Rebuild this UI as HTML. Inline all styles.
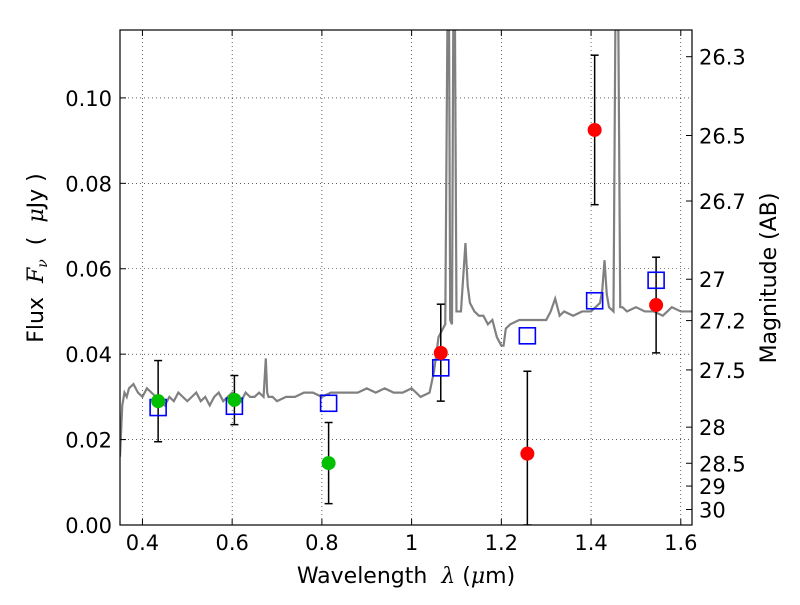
<!DOCTYPE html>
<html><head><meta charset="utf-8"><style>
body{margin:0;background:#fff}
svg text{font-family:"DejaVu Sans","Liberation Sans",sans-serif;fill:#000}
</style></head><body>
<svg id="c" width="800" height="600" viewBox="0 0 800 600"></svg>
<script>
const specWave=[0.35,0.355,0.36,0.365,0.37,0.38,0.39,0.40,0.41,0.42,0.43,0.44,0.45,0.46,0.47,0.48,0.49,0.50,0.51,0.52,0.53,0.54,0.55,0.56,0.57,0.58,0.59,0.60,0.61,0.62,0.63,0.64,0.65,0.66,0.67,0.675,0.678,0.681,0.69,0.70,0.72,0.74,0.76,0.78,0.80,0.82,0.84,0.86,0.88,0.90,0.92,0.94,0.96,0.98,1.00,1.02,1.04,1.05,1.06,1.07,1.075,1.08,1.083,1.086,1.09,1.093,1.096,1.10,1.11,1.115,1.12,1.125,1.13,1.14,1.15,1.16,1.17,1.18,1.19,1.20,1.205,1.21,1.22,1.24,1.26,1.28,1.30,1.31,1.32,1.33,1.34,1.36,1.38,1.40,1.42,1.425,1.43,1.435,1.44,1.45,1.455,1.46,1.465,1.47,1.48,1.50,1.52,1.54,1.56,1.58,1.60,1.625];
const specFlux=[0.016,0.028,0.031,0.030,0.032,0.033,0.031,0.030,0.032,0.031,0.030,0.029,0.028,0.030,0.029,0.031,0.030,0.029,0.030,0.031,0.029,0.030,0.028,0.030,0.031,0.029,0.030,0.031,0.030,0.029,0.031,0.030,0.030,0.031,0.030,0.039,0.031,0.030,0.030,0.029,0.030,0.030,0.031,0.031,0.030,0.031,0.031,0.031,0.031,0.032,0.031,0.032,0.031,0.031,0.032,0.030,0.031,0.036,0.044,0.046,0.047,0.12,0.13,0.048,0.047,0.12,0.13,0.050,0.050,0.058,0.066,0.056,0.052,0.050,0.049,0.049,0.047,0.048,0.044,0.042,0.042,0.046,0.047,0.048,0.048,0.048,0.048,0.050,0.053,0.049,0.050,0.049,0.050,0.050,0.052,0.055,0.062,0.054,0.051,0.050,0.13,0.13,0.051,0.051,0.050,0.051,0.050,0.050,0.049,0.051,0.050,0.050];
const photWave=[0.435,0.605,0.815,1.065,1.258,1.408,1.545];
const modelFlux=[0.0275,0.0278,0.0285,0.0368,0.0443,0.0525,0.0573];
const obsFlux=[0.029,0.0293,0.0145,0.0403,0.0167,0.0925,0.0515];
const obsLo=[0.0195,0.0235,0.005,0.029,0.0,0.075,0.0403];
const obsHi=[0.0385,0.035,0.024,0.0517,0.036,0.11,0.0627];
const obsColor=['#00c000','#00c000','#00c000','#ff0000','#ff0000','#ff0000','#ff0000'];
const xTicks=[0.4,0.6,0.8,1.0,1.2,1.4,1.6];
const xTickLabels=['0.4','0.6','0.8','1','1.2','1.4','1.6'];
const yTicks=[0,0.02,0.04,0.06,0.08,0.10];
const yTickLabels=['0.00','0.02','0.04','0.06','0.08','0.10'];
const magTicks=[26.3,26.5,26.7,27,27.2,27.5,28,28.5,29,30];

const svg=document.getElementById('c');
const NS='http://www.w3.org/2000/svg';
const L=120,R=692,T=30,B=525,X0=0.35,X1=1.625,Y0=0,Y1=0.1159;
const sx=v=>L+(v-X0)/(X1-X0)*(R-L);
const sy=v=>B-(v-Y0)/(Y1-Y0)*(B-T);
function mk(tag,at,parent){const e=document.createElementNS(NS,tag);for(const k in at)e.setAttribute(k,at[k]);(parent||svg).appendChild(e);return e;}
const defs=mk('defs',{});const cp=mk('clipPath',{id:'clip'},defs);mk('rect',{x:L,y:T,width:R-L,height:B-T},cp);

const grid=mk('g',{});


xTicks.forEach(t=>mk('line',{x1:sx(t),x2:sx(t),y1:T,y2:B,stroke:'#000','stroke-width':0.6,'stroke-dasharray':'1,3'},grid));
yTicks.forEach(t=>mk('line',{x1:L,x2:R,y1:sy(t),y2:sy(t),stroke:'#000','stroke-width':0.6,'stroke-dasharray':'1,3'},grid));

const plot=mk('g',{'clip-path':'url(#clip)'});
const sp=mk('polyline',{points:specWave.map((w,i)=>sx(w)+','+sy(specFlux[i])).join(' '),fill:'none',stroke:'#808080','stroke-width':2.2},plot);



photWave.forEach((w,i)=>{
 const eb=mk('g',{},plot);
 
 
 mk('line',{x1:sx(w),x2:sx(w),y1:sy(obsLo[i]),y2:sy(obsHi[i]),stroke:'#000','stroke-width':1.5},eb);
 mk('line',{x1:sx(w)-4,x2:sx(w)+4,y1:sy(obsLo[i]),y2:sy(obsLo[i]),stroke:'#000','stroke-width':1.5},eb);
 mk('line',{x1:sx(w)-4,x2:sx(w)+4,y1:sy(obsHi[i]),y2:sy(obsHi[i]),stroke:'#000','stroke-width':1.5},eb);
});
photWave.forEach((w,i)=>{
 const s=mk('rect',{x:sx(w)-8,y:sy(modelFlux[i])-8,width:16,height:16,fill:'none',stroke:'#0000ff','stroke-width':1.6},plot);
 
 
});
photWave.forEach((w,i)=>{
 const c=mk('circle',{cx:sx(w),cy:sy(obsFlux[i]),r:7,fill:obsColor[i]},plot);
 
 
});

const frame=mk('rect',{x:L,y:T,width:R-L,height:B-T,fill:'none',stroke:'#000','stroke-width':1.2});



xTicks.forEach((t,i)=>{
 mk('line',{x1:sx(t),x2:sx(t),y1:B,y2:B-6,stroke:'#000'});mk('line',{x1:sx(t),x2:sx(t),y1:T,y2:T+6,stroke:'#000'});
 const tx=mk('text',{x:sx(t),y:B+25,'font-size':21,'text-anchor':'middle'});tx.textContent=xTickLabels[i];
 
 
});
yTicks.forEach((t,i)=>{
 mk('line',{x1:L,x2:L+6,y1:sy(t),y2:sy(t),stroke:'#000'});
 const tx=mk('text',{x:L-8,y:sy(t)+8,'font-size':21,'text-anchor':'end'});tx.textContent=yTickLabels[i];
 
 
});
magTicks.forEach(m=>{
 const f=Math.pow(10,(23.9-m)/2.5);const y=sy(f);
 mk('line',{x1:R,x2:R-6,y1:y,y2:y,stroke:'#000'});
 const tx=mk('text',{x:R+7,y:y+8,'font-size':21});tx.textContent=String(m);
 
 
});
const xt=mk('text',{x:406,y:583,'font-size':22,'text-anchor':'middle'});
xt.innerHTML='Wavelength&#160; <tspan font-style="italic" font-family="DejaVu Serif">λ</tspan> (<tspan font-style="italic" font-family="DejaVu Serif">μ</tspan>m)';


const yt=mk('text',{x:0,y:0,'font-size':22,'text-anchor':'middle',transform:'translate(43,258) rotate(-90)'});
yt.innerHTML='Flux&#160; <tspan font-style="italic" font-family="DejaVu Serif">F</tspan><tspan font-size="14" dy="4" font-style="italic" font-family="DejaVu Serif">ν</tspan><tspan dy="-4">&#160; (&#160; </tspan><tspan font-style="italic" font-family="DejaVu Serif">μ</tspan>Jy )';


const rt=mk('text',{x:0,y:0,'font-size':22,'text-anchor':'middle',transform:'translate(776,278) rotate(-90)'});
rt.textContent='Magnitude (AB)';


</script>
</body></html>
